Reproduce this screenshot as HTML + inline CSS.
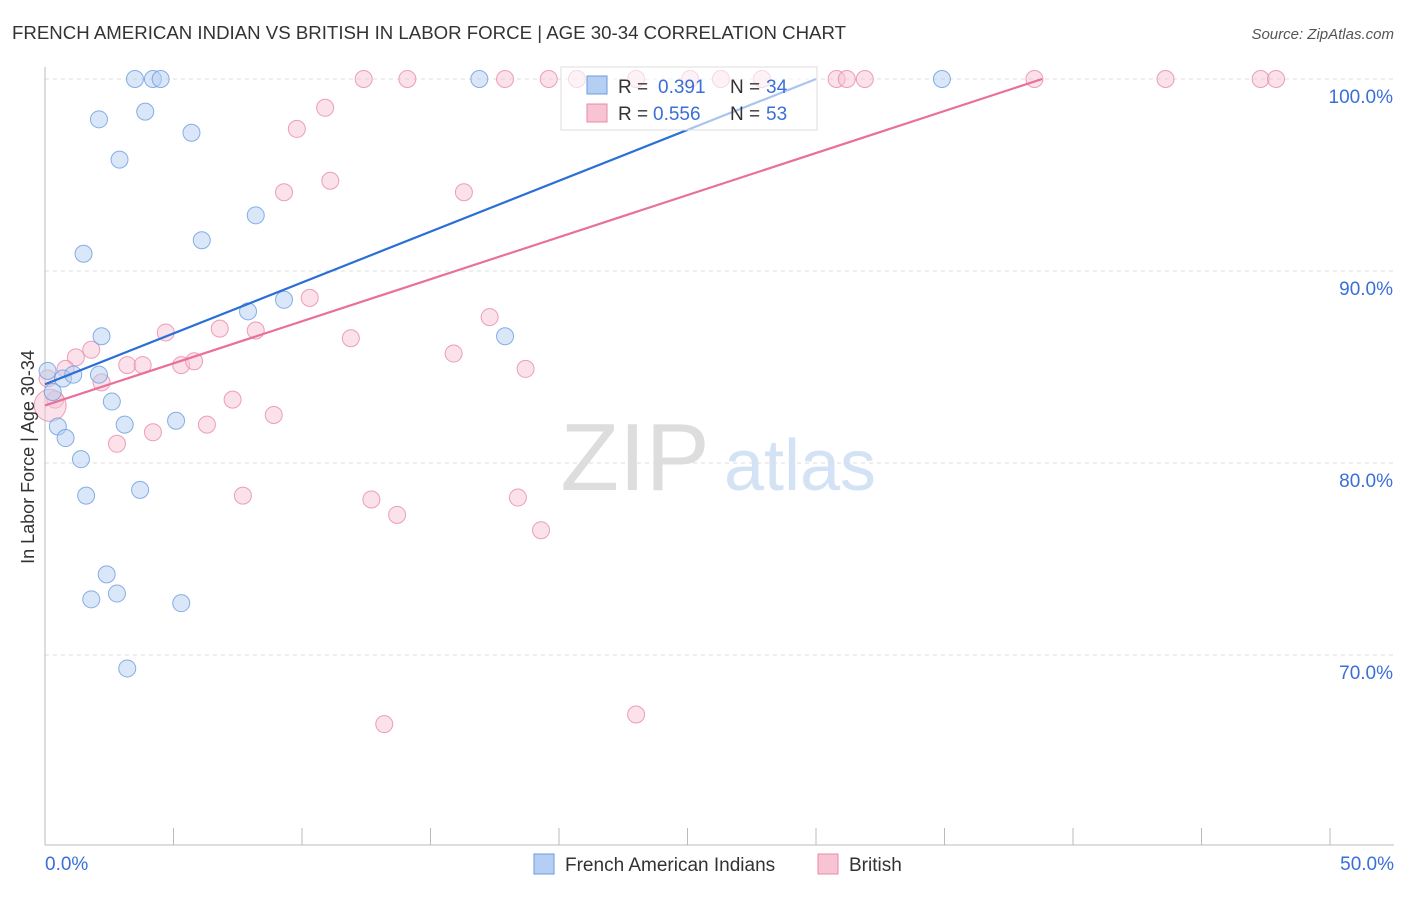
<!DOCTYPE html>
<html><head><meta charset="utf-8">
<style>
body{margin:0;background:#fff;font-family:"Liberation Sans",sans-serif;}
svg text{font-family:"Liberation Sans",sans-serif;}
</style></head>
<body>
<svg width="1406" height="892" viewBox="0 0 1406 892">
<text x="12" y="39" font-size="18" fill="#333" textLength="834" lengthAdjust="spacingAndGlyphs">FRENCH AMERICAN INDIAN VS BRITISH IN LABOR FORCE | AGE 30-34 CORRELATION CHART</text>
<text x="1394" y="39" font-size="15" fill="#555" font-style="italic" text-anchor="end">Source: ZipAtlas.com</text>
<g>
<text x="635" y="490" font-size="96" fill="#ddd" font-family="Liberation Serif" text-anchor="middle">ZIP</text>
<text x="800" y="490" font-size="72" fill="#d3e2f5" text-anchor="middle">atlas</text>
</g>
<g id="grid"></g>
<g id="axes"></g>
<g id="marks"></g>
<text transform="translate(34,457) rotate(-90)" font-size="18" fill="#333" text-anchor="middle">In Labor Force | Age 30-34</text>
<g>
<rect x="561" y="67" width="256" height="63" fill="#fff" fill-opacity="0.6" stroke="#ddd"/>
<rect x="587" y="76" width="20" height="18" fill="#b5cff2" stroke="#6b9be0"/>
<text x="618" y="93" font-size="19" fill="#333">R = </text><text x="658" y="93" font-size="19" fill="#3a6fd8">0.391</text>
<text x="730" y="93" font-size="19" fill="#333">N = </text><text x="766" y="93" font-size="19" fill="#3a6fd8">34</text>
<rect x="587" y="104" width="20" height="18" fill="#f8c4d4" stroke="#e88aa8"/>
<text x="618" y="120" font-size="19" fill="#333">R = </text><text x="653" y="120" font-size="19" fill="#3a6fd8">0.556</text>
<text x="730" y="120" font-size="19" fill="#333">N = </text><text x="766" y="120" font-size="19" fill="#3a6fd8">53</text>
</g>
<g>
<rect x="534" y="854" width="20" height="20" fill="#b5cff2" stroke="#6b9be0"/>
<text x="565" y="871" font-size="19" fill="#333">French American Indians</text>
<rect x="818" y="854" width="20" height="20" fill="#f8c4d4" stroke="#e88aa8"/>
<text x="849" y="871" font-size="19" fill="#333">British</text>
</g>
</svg>
<script>
const yTicks=[100,90,80,70];
const yTickLabels=["100.0%","90.0%","80.0%","70.0%"];
const blueX=[3.5,4.2,4.5,16.9,34.9,2.1,3.9,5.7,2.9,8.2,6.1,1.5,9.3,7.9,2.2,17.9,0.1,0.7,1.1,2.1,0.3,2.6,0.5,3.1,5.1,0.8,1.4,1.6,3.7,2.4,2.8,1.8,5.3,3.2];
const blueY=[100,100,100,100,100,97.9,98.3,97.2,95.8,92.9,91.6,90.9,88.5,87.9,86.6,86.6,84.8,84.4,84.6,84.6,83.7,83.2,81.9,82.0,82.2,81.3,80.2,78.3,78.6,74.2,73.2,72.9,72.7,69.3];
const pinkX=[12.4,14.1,17.9,19.6,20.7,23.0,25.1,26.3,27.9,30.8,31.2,31.9,38.5,43.6,47.3,47.9,10.9,9.8,11.1,9.3,16.3,10.3,17.3,4.7,6.8,8.2,11.9,1.8,1.2,15.9,0.8,3.2,3.8,5.3,5.8,18.7,2.2,0.4,7.3,8.9,6.3,4.2,2.8,7.7,12.7,18.4,13.7,19.3,13.2,23.0,0.1,0.2];
const pinkY=[100,100,100,100,100,100,100,100,100,100,100,100,100,100,100,100,98.5,97.4,94.7,94.1,94.1,88.6,87.6,86.8,87.0,86.9,86.5,85.9,85.5,85.7,84.9,85.1,85.1,85.1,85.3,84.9,84.2,83.3,83.3,82.5,82.0,81.6,81.0,78.3,78.1,78.2,77.3,76.5,66.4,66.9,84.4,83.0];
const blueTrendX=[0,30.0], blueTrendY=[84.1,100];
const pinkTrendX=[0,38.8], pinkTrendY=[83.0,100];
const NS="http://www.w3.org/2000/svg";
const xs=v=>45+v/50*1285;
const ys=v=>79+(100-v)*19.2;
function mk(tag,attrs,parent){const e=document.createElementNS(NS,tag);for(const k in attrs)e.setAttribute(k,attrs[k]);parent.appendChild(e);return e;}
const grid=document.getElementById('grid'),axes=document.getElementById('axes'),marks=document.getElementById('marks');
yTicks.forEach((t,i)=>{
 const l=mk('line',{x1:45,x2:1394,y1:ys(t),y2:ys(t),stroke:'#ddd','stroke-dasharray':'4,4'},grid);
 
 
 const tx=mk('text',{x:1393,y:ys(t)+24,'font-size':19,fill:'#3a6fd8','text-anchor':'end'},grid);
 tx.textContent=yTickLabels[i];
 
 
});
const ax=mk('line',{x1:45,x2:45,y1:67,y2:845,stroke:'#bbb'},axes);


const bx=mk('line',{x1:45,x2:1394,y1:845,y2:845,stroke:'#bbb'},axes);


for(let i=0;i<=10;i++){const t=mk('line',{x1:xs(i*5),x2:xs(i*5),y1:828,y2:845,stroke:'#bbb'},axes);
 
 }
const xl=mk('text',{x:45,y:870,'font-size':19,fill:'#3a6fd8'},axes);xl.textContent='0.0%';


const xr=mk('text',{x:1394,y:870,'font-size':19,fill:'#3a6fd8','text-anchor':'end'},axes);xr.textContent='50.0%';


function pts(X,Y,fill,stroke,name){X.forEach((x,i)=>{const r=(name==='pink-point'&&i===X.length-1)?16:8.5;
 const c=mk('circle',{cx:xs(x),cy:ys(Y[i]),r:r,fill:fill,'fill-opacity':0.5,stroke:stroke,'stroke-width':1,'stroke-opacity':0.8},marks);
 
 });}
pts(pinkX,pinkY,'#f8c4d4','#e88aa8','pink-point');
pts(blueX,blueY,'#b5cff2','#6b9be0','blue-point');
const bl=mk('line',{x1:xs(blueTrendX[0]),y1:ys(blueTrendY[0]),x2:xs(blueTrendX[1]),y2:ys(blueTrendY[1]),stroke:'#2a6fd6','stroke-width':2.2},marks);


const pl=mk('line',{x1:xs(pinkTrendX[0]),y1:ys(pinkTrendY[0]),x2:xs(pinkTrendX[1]),y2:ys(pinkTrendY[1]),stroke:'#e8709a','stroke-width':2.2},marks);


</script>
</body></html>
